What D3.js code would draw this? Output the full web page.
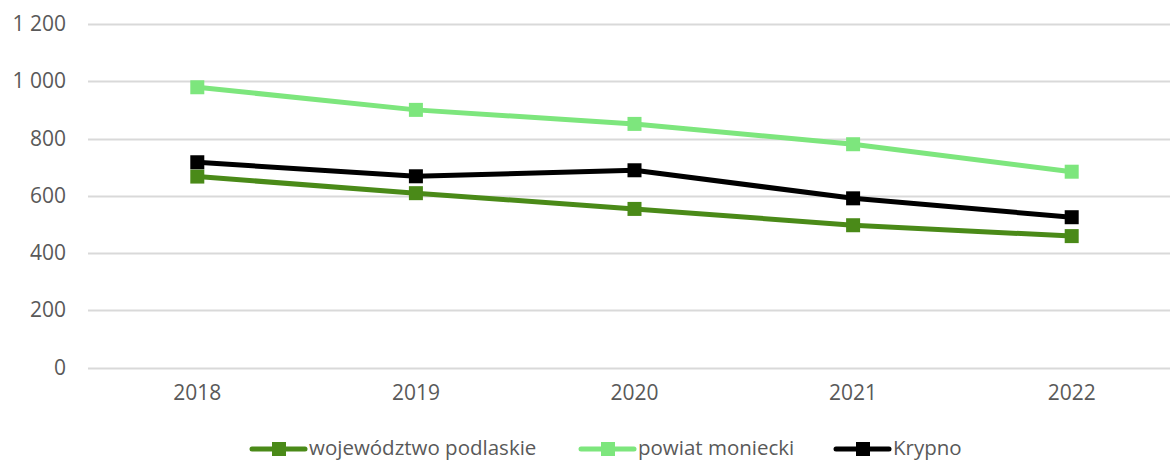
<!DOCTYPE html>
<html>
<head>
<meta charset="utf-8">
<script src="https://cdn.jsdelivr.net/npm/d3@7"></script>
<style>
  html, body { margin: 0; padding: 0; background: #fff; }
  svg { display: block; font-family: "Open Sans", "Liberation Sans", sans-serif; }
</style>
</head>
<body>
<svg id="chart" width="1170" height="461"></svg>
<script>
// Years on the x axis
const years = ["2018", "2019", "2020", "2021", "2022"];

// Series values
const wojewodztwo = [667, 609, 554, 497, 459];
const powiat = [979, 900, 851, 780, 684];
const krypno = [717, 668, 689, 591, 525];

// Y axis ticks
const yTicks = [0, 200, 400, 600, 800, 1000, 1200];

const seriesNames = ["województwo podlaskie", "powiat moniecki", "Krypno"];
const seriesColors = ["#4A8A18", "#7DE67D", "#000000"];
const seriesValues = [wojewodztwo, powiat, krypno];

const svg = d3.select("#chart");
const margin = { left: 88, right: -11, top: 24, bottom: 93.5 };
const W = 1170, H = 461;

const x = d3.scaleBand()
  .domain(years)
  .range([margin.left, W - margin.right])
  .paddingInner(0).paddingOuter(0);

const y = d3.scaleLinear()
  .domain([0, 1200])
  .range([H - margin.bottom, margin.top]);

const fmt = v => d3.format(",")(v).replace(/,/g, "\u00a0");

// Horizontal gridlines
svg.append("g")
  .selectAll("line")
  .data(yTicks)
  .join("line")
  .attr("x1", margin.left)
  .attr("x2", W)
  .attr("y1", d => Math.round(y(d)) + 0.5)
  .attr("y2", d => Math.round(y(d)) + 0.5)
  .attr("stroke", "#D9D9D9")
  .attr("stroke-width", 2);

// Y axis labels
const yAxis = d3.axisLeft(y).tickValues(yTicks).tickFormat(fmt).tickSize(0).tickPadding(0);
const gy = svg.append("g").attr("transform", `translate(${66},0)`).call(yAxis);
gy.select(".domain").remove();
gy.selectAll("text")
  .attr("fill", "#595959")
  .style("font-size", "21px")
  .attr("font-family", "\"Open Sans\", sans-serif");

// X axis labels
const xAxis = d3.axisBottom(x).tickSize(0).tickPadding(0);
const gx = svg.append("g").attr("transform", `translate(0,${385})`).call(xAxis);
gx.select(".domain").remove();
gx.selectAll("text")
  .attr("fill", "#595959")
  .style("font-size", "21px")
  .attr("font-family", "\"Open Sans\", sans-serif");

const cx = d => x(d) + x.bandwidth() / 2;
const line = d3.line().x((d, i) => cx(years[i])).y(d => y(d));

const markerSize = 14;
seriesValues.forEach((vals, si) => {
  const g = svg.append("g");
  g.append("path")
    .datum(vals)
    .attr("d", line)
    .attr("fill", "none")
    .attr("stroke", seriesColors[si])
    .attr("stroke-width", 5)
    .attr("stroke-linejoin", "round")
    .attr("stroke-linecap", "round");
  g.selectAll("rect")
    .data(vals)
    .join("rect")
    .attr("x", (d, i) => cx(years[i]) - markerSize / 2)
    .attr("y", d => y(d) - markerSize / 2)
    .attr("width", markerSize)
    .attr("height", markerSize)
    .attr("fill", seriesColors[si]);
});

// Legend
const legendX = [250, 579, 834];
const legendY = 449;
const legend = svg.append("g");
seriesNames.forEach((name, i) => {
  const lg = legend.append("g").attr("transform", `translate(${legendX[i]},${legendY})`);
  lg.append("line")
    .attr("x1", 2).attr("x2", 55)
    .attr("y1", 0).attr("y2", 0)
    .attr("stroke", seriesColors[i])
    .attr("stroke-width", 5)
    .attr("stroke-linecap", "round");
  lg.append("rect")
    .attr("x", 22).attr("y", -7)
    .attr("width", 14).attr("height", 14)
    .attr("fill", seriesColors[i]);
  lg.append("text")
    .attr("x", 59).attr("y", 0)
    .attr("dy", "0.3em")
    .attr("fill", "#595959")
    .style("font-size", "20.5px")
    .text(name);
});
</script>
</body>
</html>
